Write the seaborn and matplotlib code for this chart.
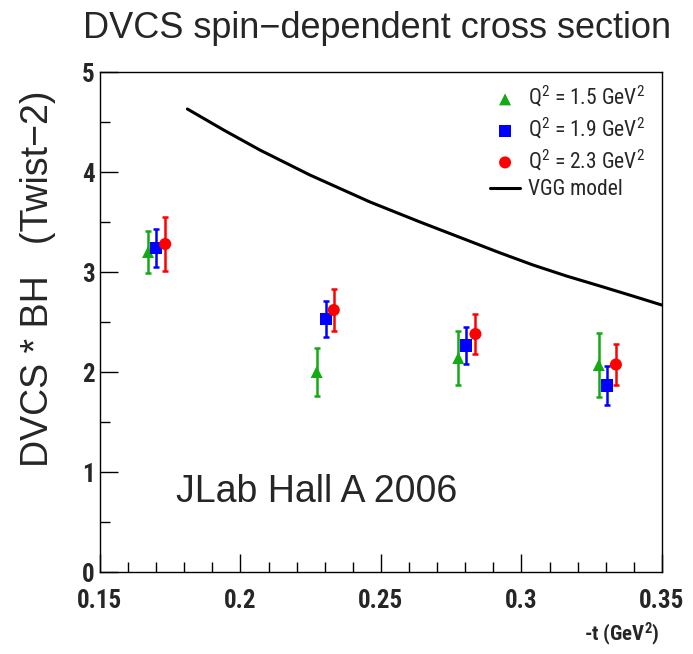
import numpy as np
import pandas as pd
import matplotlib
matplotlib.use("Agg")
import matplotlib.pyplot as plt
from matplotlib import font_manager as fm
import seaborn as sns

# ---- data ----
t_q15 = [0.1671, 0.2271, 0.2775, 0.3275]
y_q15 = [3.20, 2.00, 2.14, 2.07]
e_q15 = [0.21, 0.24, 0.27, 0.32]

t_q19 = [0.1700, 0.2303, 0.2804, 0.3304]
y_q19 = [3.24, 2.53, 2.265, 1.865]
e_q19 = [0.19, 0.18, 0.185, 0.195]

t_q23 = [0.1732, 0.2332, 0.2836, 0.3336]
y_q23 = [3.28, 2.62, 2.38, 2.075]
e_q23 = [0.27, 0.21, 0.20, 0.205]

vgg_t = [0.1811, 0.194, 0.2069, 0.2247, 0.2461, 0.2639, 0.2805, 0.292,
         0.3041, 0.316, 0.3279, 0.339, 0.3499]
vgg_y = [4.63, 4.42, 4.22, 3.97, 3.70, 3.50, 3.32, 3.195,
         3.07, 2.96, 2.86, 2.765, 2.67]

labels = ["Q$^{2}$ = 1.5 GeV$^{2}$", "Q$^{2}$ = 1.9 GeV$^{2}$", "Q$^{2}$ = 2.3 GeV$^{2}$"]
x_ticks = [0.15, 0.2, 0.25, 0.3, 0.35]
x_ticklabels = ["0.15", "0.2", "0.25", "0.3", "0.35"]
y_ticks = [0, 1, 2, 3, 4, 5]

sns.set_theme(style="white")

# pick a condensed family if one is installed
names = sorted({f.name for f in fm.fontManager.ttflist})
narrow = None
for pref in ["Liberation Sans Narrow", "Roboto Condensed", "Open Sans Condensed",
             "Noto Sans Condensed", "DejaVu Sans Condensed"]:
    if pref in names:
        narrow = pref
        break
if narrow is None:
    for n in names:
        if "Narrow" in n or "Condensed" in n:
            narrow = n
            break
if narrow is None:
    narrow = "Liberation Sans"
NARROW = [narrow, "Liberation Sans", "DejaVu Sans"]
REG = ["Liberation Sans", "DejaVu Sans"]

plt.rcParams['font.family'] = NARROW
plt.rcParams['mathtext.fontset'] = 'custom'
plt.rcParams['mathtext.rm'] = narrow
plt.rcParams['mathtext.it'] = narrow
plt.rcParams['mathtext.bf'] = narrow + ":bold"

W, H = 693, 654
fig = plt.figure(figsize=(W / 100, H / 100), dpi=100)
fig.patch.set_facecolor("white")
ax = fig.add_axes([100 / W, (H - 572) / H, 562 / W, 500 / H])
ax.set_facecolor("white")

green = "#14aa14"
blue = "#0000ff"
red = "#ff0000"

series = [
    (t_q15, y_q15, e_q15, green, "^", labels[0]),
    (t_q19, y_q19, e_q19, blue, "s", labels[1]),
    (t_q23, y_q23, e_q23, red, "o", labels[2]),
]
for t, y, e, c, m, lab in series:
    ax.errorbar(t, y, yerr=e, fmt="none", ecolor=c, elinewidth=1.8,
                capsize=2.2, capthick=1.8, zorder=2)
    df = pd.DataFrame({"t": t, "y": y})
    sns.scatterplot(data=df, x="t", y="y", ax=ax, color=c, marker=m,
                    s=75, edgecolor="none", linewidth=0, zorder=3, label=lab)

dfv = pd.DataFrame({"t": vgg_t, "y": vgg_y})
sns.lineplot(data=dfv, x="t", y="y", ax=ax, color="black", linewidth=2.2,
             label="VGG model", zorder=2)

ax.set_xlim(0.15, 0.35)
ax.set_ylim(0, 5)
ax.set_xticks(x_ticks)
ax.set_xticklabels(x_ticklabels)
ax.set_yticks(y_ticks)
ax.set_xticks(np.arange(0.15, 0.3501, 0.01), minor=True)
ax.set_yticks(np.arange(0, 5.01, 0.5), minor=True)
ax.tick_params(axis="both", which="major", direction="in", length=13, width=1,
               color="black", bottom=True, left=True, top=False, right=False,
               labelsize=18)
ax.tick_params(axis="both", which="minor", direction="in", length=7, width=1,
               color="black", bottom=True, left=True, top=False, right=False)
ax.tick_params(axis="x", which="major", pad=12)
ax.tick_params(axis="y", which="major", pad=4)
for lab in ax.get_xticklabels() + ax.get_yticklabels():
    lab.set_fontweight("bold")
for s in ax.spines.values():
    s.set_color("black")
    s.set_linewidth(1.0)
    s.set_visible(True)

ax.set_xlabel("")
ax.set_ylabel("")

fig.text(83 / W, 1 - 29 / H, "DVCS spin\u2212dependent cross section",
         fontsize=26, family=REG, ha="left", va="center")
fig.text(38 / W, 1 - 279 / H, "DVCS * BH   (Twist\u22122)", rotation=90,
         fontsize=27, family=REG, ha="center", va="center")
fig.text(660 / W, 1 - 634 / H, "-t (GeV$^{\\mathbf{2}}$)", fontsize=15,
         fontweight="bold", ha="right", va="center")
ax.text(0.1770, 0.795, "JLab Hall A 2006", fontsize=27,
        family=REG, ha="left", va="center")

leg = ax.legend(loc="upper left", bbox_to_anchor=(390 / 562, 0.975), frameon=False,
                prop={"family": NARROW, "size": 15.5}, handlelength=1.4,
                handletextpad=0.35, labelspacing=0.28, borderaxespad=0.0,
                borderpad=0.0)

fig.savefig("out.png", dpi=100, facecolor="white")
